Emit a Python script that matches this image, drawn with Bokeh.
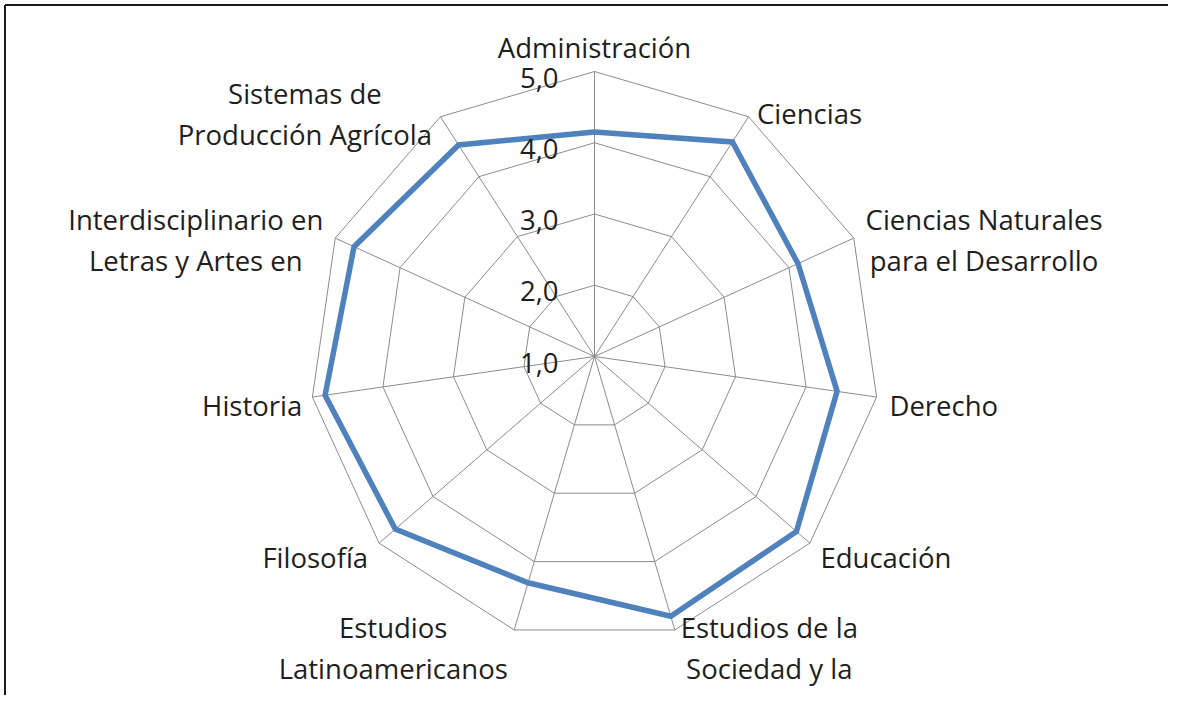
import math
from bokeh.plotting import figure
from bokeh.models import Range1d, ColumnDataSource
from bokeh.embed import file_html
from bokeh.resources import INLINE
from bokeh.core.properties import value

# ---- data ----
categories = [
    "Administración",
    "Ciencias",
    "Ciencias Naturales\npara el Desarrollo",
    "Derecho",
    "Educación",
    "Estudios de la\nSociedad y la",
    "Estudios\nLatinoamericanos",
    "Filosofía",
    "Historia",
    "Interdisciplinario en\nLetras y Artes en",
    "Sistemas de\nProducción Agrícola",
]
scores = [4.15, 4.58, 4.14, 4.44, 4.75, 4.80, 4.31, 4.70, 4.82, 4.71, 4.53]
tick_values = [1.0, 2.0, 3.0, 4.0, 5.0]
tick_labels = ["1,0", "2,0", "3,0", "4,0", "5,0"]

# ---- layout ----
R_MIN, R_MAX = tick_values[0], tick_values[-1]
PX = 71.25          # pixels per value unit
W, H = 1168, 695
CX, CY = 594, 356   # centre of the radar in figure pixels
FONT = value("Open Sans")
FS = 27.5
FSIZE = f"{FS}px"
TXT = "#1e1e1e"
GRID = "#8c8c8c"
BLUE = "#4F81BD"

# approximate Open Sans advance widths (units per em = 2048) to centre
# the lines of multi-line labels inside their block, as Excel does
_ADV = {
    " ": 532, "A": 1296, "C": 1292, "D": 1479, "E": 1139, "I": 548,
    "L": 1124, "N": 1511, "P": 1212, "S": 1100, "a": 1139, "c": 975,
    "d": 1255, "e": 1149, "g": 1122, "h": 1257, "i": 518, "í": 518,
    "l": 518, "m": 1929, "n": 1257, "o": 1237, "ó": 1237, "p": 1255,
    "r": 836, "s": 977, "t": 723, "u": 1257, "y": 1026, "f": 694,
}


def text_width(s):
    return sum(_ADV.get(ch, 1100) for ch in s) * FS / 2048.0


n = len(categories)
angles = [2 * math.pi * i / n for i in range(n)]


def pt(v, a):
    r = v - R_MIN
    return r * math.sin(a), r * math.cos(a)


p = figure(
    width=W, height=H,
    x_range=Range1d(-CX / PX, (W - CX) / PX),
    y_range=Range1d(-(H - CY) / PX, CY / PX),
    output_backend="svg", toolbar_location=None, min_border=0,
)
p.axis.visible = False
p.grid.visible = False
p.outline_line_color = None
p.background_fill_color = "white"
p.border_fill_color = "white"

# frame lines (top & left) of the original picture
x0, x1 = p.x_range.start, p.x_range.end
y0, y1 = p.y_range.start, p.y_range.end
e = 4.5 / PX
p.segment(x0=[x0 + e, x0 + e], y0=[y1 - e, y0],
          x1=[x1, x0 + e], y1=[y1 - e, y1 - e],
          line_color="#1a1a1a", line_width=2)

# rings
for tv in tick_values[1:]:
    xs, ys = [], []
    for a in angles + [angles[0]]:
        x, y = pt(tv, a)
        xs.append(x)
        ys.append(y)
    p.line(xs, ys, line_color=GRID, line_width=1)

# spokes
sx, sy = zip(*[pt(R_MAX, a) for a in angles])
p.segment(x0=[0] * n, y0=[0] * n, x1=list(sx), y1=list(sy),
          line_color=GRID, line_width=1)

# series
vx, vy = zip(*[pt(v, a) for v, a in zip(scores, angles)])
p.line(list(vx) + [vx[0]], list(vy) + [vy[0]], line_color=BLUE,
       line_width=5.5, line_join="miter")

# radial tick labels
p.text(x=[0] * len(tick_values), y=[tv - R_MIN for tv in tick_values],
       text=tick_labels, x_offset=-36, y_offset=6,
       text_align="right", text_baseline="middle",
       text_font=FONT, text_font_size=FSIZE, text_color=TXT)

# category labels
LINE_H = 41
lx, ly, lt, lxo, lyo = [], [], [], [], []
for cat, a in zip(categories, angles):
    ox, oy = pt(R_MAX, a)
    s, c = math.sin(a), math.cos(a)
    lines = cat.split("\n")
    m = len(lines)
    half_w = max(text_width(t) for t in lines) / 2.0
    for j, line in enumerate(lines):
        lx.append(ox)
        ly.append(oy)
        lt.append(line)
        if abs(s) < 0.1:
            lxo.append(0)
            lyo.append(-24 - (m - 1 - j) * LINE_H)
        else:
            gap = 3 + 10 * abs(s)
            lxo.append((gap + half_w) * (1 if s > 0 else -1))
            lyo.append(7 - 12 * c + (j - (m - 1) / 2) * LINE_H)

src = ColumnDataSource(dict(x=lx, y=ly, text=lt, xo=lxo, yo=lyo))
p.text(x="x", y="y", text="text", x_offset="xo", y_offset="yo",
       text_align="center", text_baseline="middle", source=src,
       text_font=FONT, text_font_size=FSIZE, text_color=TXT)

open("out.html", "w").write(file_html(p, INLINE))
